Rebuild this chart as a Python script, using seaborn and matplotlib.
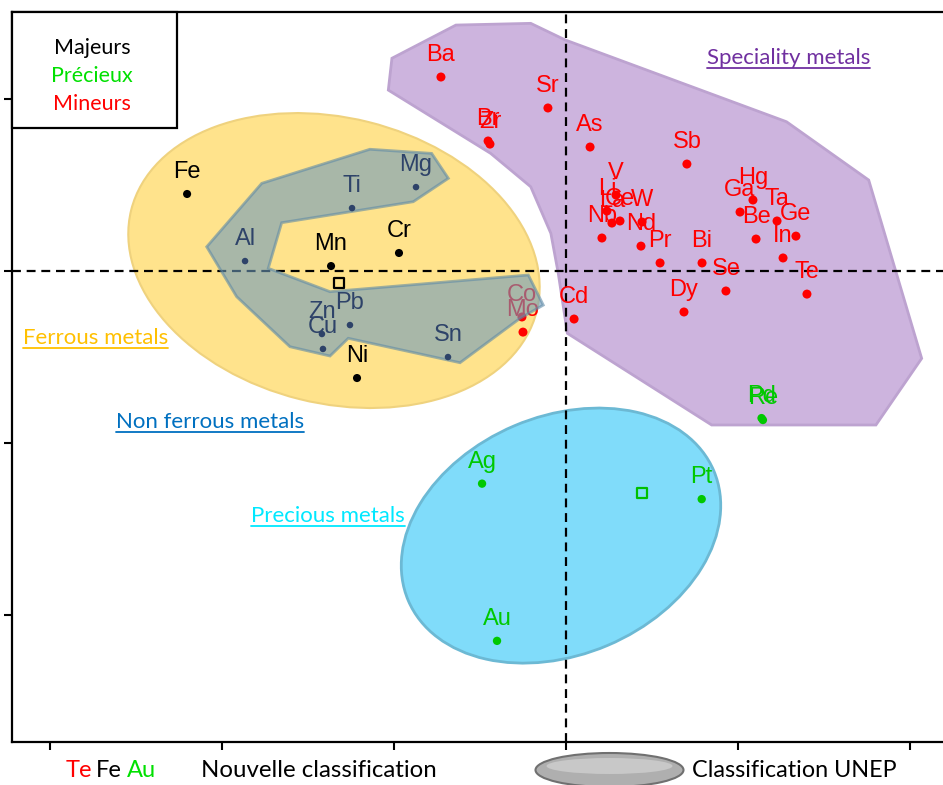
import matplotlib
matplotlib.use("Agg")
import matplotlib.pyplot as plt
import numpy as np
import pandas as pd
import seaborn as sns
from matplotlib.patches import Ellipse, Polygon, Rectangle
from matplotlib.lines import Line2D

# ---------------- data ----------------
maj_names = ["Fe", "Mn", "Cr", "Ni"]
maj_x = [-2.203, -1.366, -0.971, -1.215]
maj_y = [0.448, 0.029, 0.105, -0.622]

nf_names = ["Mg", "Ti", "Al", "Pb", "Zn", "Cu", "Sn"]
nf_x = [-0.872, -1.244, -1.866, -1.256, -1.419, -1.413, -0.686]
nf_y = [0.488, 0.366, 0.058, -0.314, -0.366, -0.453, -0.500]

min_names = ["Ba", "Sr", "Br", "Zr", "As", "Sb", "V", "Li", "La", "Ce", "W",
             "Nb", "Nd", "Pr", "Bi", "Se", "Dy", "Cd", "Hg", "Ga", "Ta", "Be",
             "Ge", "In", "Te"]
min_x = [-0.727, -0.105, -0.453, -0.442, 0.140, 0.703, 0.291, 0.238, 0.267,
         0.314, 0.442, 0.209, 0.436, 0.547, 0.791, 0.930, 0.686, 0.047,
         1.087, 1.012, 1.227, 1.105, 1.337, 1.262, 1.401]
min_y = [1.128, 0.948, 0.756, 0.738, 0.721, 0.622, 0.442, 0.349, 0.279,
         0.291, 0.285, 0.192, 0.145, 0.047, 0.047, -0.116, -0.238, -0.279,
         0.413, 0.343, 0.291, 0.186, 0.203, 0.076, -0.134]

hid_names = ["Co", "Mo"]
hid_x = [-0.256, -0.250]
hid_y = [-0.267, -0.355]

prec_names = ["Pd", "Re", "Ag", "Au", "Pt"]
prec_x = [1.137, 1.145, -0.488, -0.401, 0.789]
prec_y = [-0.855, -0.866, -1.236, -2.150, -1.326]

cent_x = [-1.320, 0.444]
cent_y = [-0.070, -1.289]
cent_col = ["black", "#00C000"]

# group shapes (UNEP classification)
ferrous_ell = dict(xy=(-1.349, 0.061), width=2.43, height=1.66, angle=-14)
precious_ell = dict(xy=(-0.029, -1.538), width=1.93, height=1.387, angle=23)
special_poly = [(-1.012, 1.237), (-0.640, 1.430), (-0.205, 1.440), (-0.003, 1.343),
                (1.282, 0.868), (1.760, 0.529), (2.068, -0.508), (1.802, -0.895),
                (0.847, -0.895), (0.008, -0.362), (-0.045, -0.013), (-0.088, 0.219),
                (-0.205, 0.490), (-0.438, 0.684), (-1.033, 1.052)]
nonferrous_poly = [(-2.089, 0.141), (-1.769, 0.510), (-1.140, 0.708), (-0.781, 0.684),
                   (-0.684, 0.539), (-0.888, 0.403), (-1.653, 0.281), (-1.731, 0.016),
                   (-1.372, -0.120), (-0.219, -0.023), (-0.132, -0.198), (-0.267, -0.275),
                   (-0.616, -0.533), (-1.266, -0.391), (-1.372, -0.494), (-1.605, -0.440),
                   (-1.915, -0.149)]

C_RED = "#FF0000"
C_BLK = "#000000"
C_NF = "#2E4369"
C_GRN = "#00C800"

sns.set_style("white")
plt.rcParams["font.family"] = ["Liberation Sans", "DejaVu Sans"]

fig = plt.figure(figsize=(9.43, 7.85), dpi=100)
W, H = 943, 785
ax = fig.add_axes([12 / W, 43 / H, (W - 12) / W, 730 / H])
ax.set_xlim(-3.221, 2.192)
ax.set_ylim(-2.738, 1.506)

# shapes
ax.add_patch(Ellipse(**ferrous_ell, facecolor="#FFE38C", edgecolor="#EFD27E", lw=1.5, zorder=1))
ax.add_patch(Ellipse(**precious_ell, facecolor="#80DCFA", edgecolor="#6CB9D4", lw=2, zorder=1))
ax.add_patch(Polygon(special_poly, closed=True, facecolor="#CDB4DE", edgecolor="#BDA3D0", lw=2, zorder=1))

# dashed axes
ax.axvline(0, color="black", lw=1.6, ls=(0, (4, 2.6)), zorder=2)
ax.axhline(0, color="black", lw=1.6, ls=(0, (4, 2.6)), zorder=2)

# frame & ticks
for s in ["left", "bottom", "top"]:
    ax.spines[s].set_visible(True)
    ax.spines[s].set_color("black")
    ax.spines[s].set_linewidth(1.6)
ax.spines["right"].set_visible(False)
ax.set_xticks([-3, -2, -1, 0, 1, 2])
ax.set_yticks([1, 0, -1, -2])
ax.tick_params(direction="out", length=6, width=1.5, colors="black",
               labelbottom=False, labelleft=False, bottom=True, left=True)
ax.set_xlabel("")
ax.set_ylabel("")

# data frame of points
df = pd.concat([
    pd.DataFrame({"name": maj_names, "x": maj_x, "y": maj_y, "group": "maj"}),
    pd.DataFrame({"name": nf_names, "x": nf_x, "y": nf_y, "group": "nf"}),
    pd.DataFrame({"name": min_names, "x": min_x, "y": min_y, "group": "min"}),
    pd.DataFrame({"name": prec_names, "x": prec_x, "y": prec_y, "group": "prec"}),
], ignore_index=True)
df_hid = pd.DataFrame({"name": hid_names, "x": hid_x, "y": hid_y, "group": "min"})

pal = {"maj": C_BLK, "nf": C_NF, "min": C_RED, "prec": C_GRN}
sizes = {"maj": 34, "nf": 22, "min": 42, "prec": 36}
col = {"maj": C_BLK, "nf": C_NF, "min": C_RED, "prec": C_GRN}
LFS = 17

# hidden (under grey polygon) points first
sns.scatterplot(data=df_hid, x="x", y="y", hue="group", palette=pal, size="group",
                sizes=sizes, legend=False, ax=ax, edgecolor="none", zorder=2.5)
for _, r in df_hid.iterrows():
    ax.annotate(r["name"], (r["x"], r["y"]), xytext=(0, 11.5), textcoords="offset points",
                ha="center", va="baseline", fontsize=LFS, color=C_RED, zorder=2.5)

ax.add_patch(Polygon(nonferrous_poly, closed=True, facecolor="#6E9ABB", edgecolor="#5F8AA6",
                     lw=2, alpha=0.6, zorder=3))

sns.scatterplot(data=df, x="x", y="y", hue="group", palette=pal, size="group",
                sizes=sizes, legend=False, ax=ax, edgecolor="none", zorder=5)
for _, r in df.iterrows():
    ax.annotate(r["name"], (r["x"], r["y"]), xytext=(0, 11.5), textcoords="offset points",
                ha="center", va="baseline", fontsize=LFS, color=col[r["group"]], zorder=6)

# centroids
for cx, cy, cc in zip(cent_x, cent_y, cent_col):
    ax.scatter([cx], [cy], marker="s", s=50, facecolor="none", edgecolor=cc, lw=1.6, zorder=6)

ax.set_xlim(-3.221, 2.192)
ax.set_ylim(-2.738, 1.506)

# legend box
ax.add_patch(Rectangle((0, 1 - 116 / 730), 165 / 931, 116 / 730, transform=ax.transAxes,
                       facecolor="white", edgecolor="black", lw=1.6, zorder=7, clip_on=False))
ui = ["Lato", "DejaVu Sans"]
def ftext(xp, yp, s, **kw):
    return fig.text(xp / W, 1 - yp / H, s, family=ui, zorder=8, **kw)

ftext(92, 54, "Majeurs", ha="center", va="baseline", fontsize=15.5, color="black")
ftext(92, 82, "Précieux", ha="center", va="baseline", fontsize=15.5, color="#00E000")
ftext(92, 110.5, "Mineurs", ha="center", va="baseline", fontsize=15.5, color="#FF0000")

# region labels (underlined)
regions = [
    (23, 344, "Ferrous metals", "#FFC000"),
    (116, 428, "Non ferrous metals", "#0070C0"),
    (251, 522, "Precious metals", "#00E8FF"),
    (707, 64, "Speciality metals", "#7030A0"),
]
rtexts = []
for xp, yp, s, c in regions:
    t = ftext(xp, yp, s, ha="left", va="baseline", fontsize=16, color=c)
    rtexts.append((t, yp, c))

# bottom strip
ftext(66, 777, "Te", ha="left", va="baseline", fontsize=17, color="#FF0000")
ftext(96, 777, "Fe", ha="left", va="baseline", fontsize=17, color="black")
ftext(127, 777, "Au", ha="left", va="baseline", fontsize=17, color="#00E000")
ftext(201, 777, "Nouvelle classification", ha="left", va="baseline", fontsize=17.3, color="black")
ftext(692, 777, "Classification UNEP", ha="left", va="baseline", fontsize=16.8, color="black")

fig.patches.append(Ellipse((609.5 / W, 1 - 770 / H), 148 / W, 34 / H, transform=fig.transFigure,
                           facecolor="#AFAFAF", edgecolor="#707070", lw=1.5, zorder=3))
fig.patches.append(Ellipse((609.5 / W, 1 - 766 / H), 126 / W, 16 / H, transform=fig.transFigure,
                           facecolor="#C8C8C8", edgecolor="none", zorder=4))

fig.canvas.draw()
rend = fig.canvas.get_renderer()
for t, yp, c in rtexts:
    bb = t.get_window_extent(rend)
    yu = 1 - (yp + 3.5) / H
    fig.lines.append(Line2D([bb.x0 / W, bb.x1 / W], [yu, yu], transform=fig.transFigure,
                            color=c, lw=1.3))

fig.savefig("out.png", dpi=100)
